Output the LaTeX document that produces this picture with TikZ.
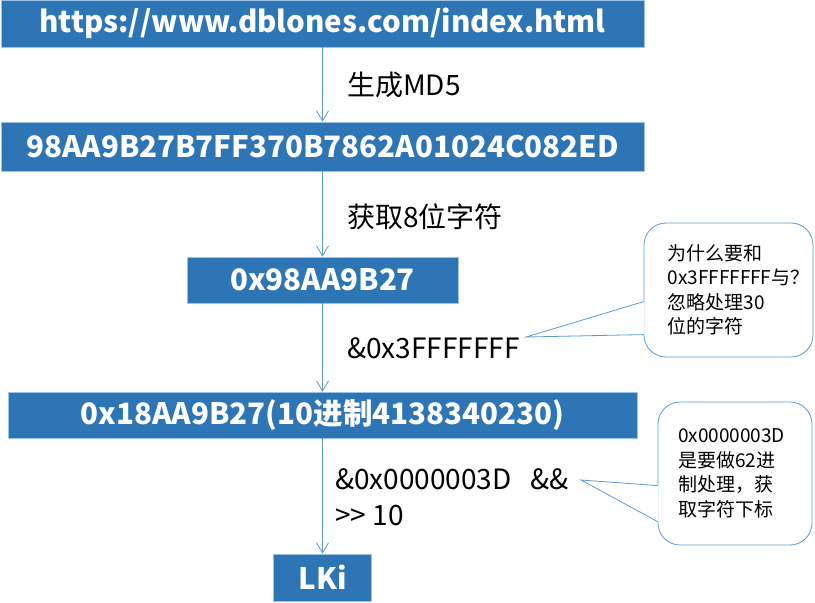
\documentclass[tikz,border=0pt]{standalone}
\usepackage{fontspec}
\setmainfont{Noto Sans CJK SC}
\usetikzlibrary{arrows.meta,calc}
\definecolor{boxblue}{HTML}{2E75B6}
\definecolor{boxedge}{HTML}{9DC3E6}
\definecolor{linkblue}{HTML}{5B9BD5}
\tikzset{
  stepbox/.style={draw=boxedge, line width=0.8pt, fill=boxblue, text=white,
    font=\fontsize{29.5}{34}\selectfont\bfseries, inner sep=0pt},
  flow/.style={-{Straight Barb[length=10pt,width=12pt]}, line width=0.8pt, draw=linkblue},
  oplabel/.style={anchor=west, align=left, font=\fontsize{28}{36}\selectfont, inner sep=0pt},
  note/.style={draw=linkblue, line width=0.8pt, fill=white, rounded corners=22pt,
    align=left, font=\fontsize{19}{24.5}\selectfont, inner sep=0pt},
  pointer/.style={draw=linkblue, line width=0.8pt, line join=miter}
}

\begin{document}
\begin{tikzpicture}[x=1pt, y=-1pt]
  \useasboundingbox (0,0) rectangle (815,603);

  % chain of values
  \node[stepbox, minimum width=643, minimum height=47] (url) at (322.5,23.5) {https://www.dblones.com/index.html};
  \node[stepbox, minimum width=643, minimum height=49] (md5) at (322.5,146.5) {98AA9B27B7FF370B7862A01024C082ED};
  \node[stepbox, minimum width=271, minimum height=46] (head) at (322.5,280) {0x98AA9B27};
  \node[stepbox, minimum width=629, minimum height=46] (masked) at (322.5,415) {0x18AA9B27(10进制4138340230)};
  \node[stepbox, minimum width=98, minimum height=47] (result) at (322.5,577.5) {LKi};

  \draw[flow] (url) -- (md5);
  \draw[flow] (md5) -- (head);
  \draw[flow] (head) -- (masked);
  \draw[flow] (masked) -- (result);

  % operations
  \node[oplabel] (genMD5) at (347,85) {生成MD5};
  \node[oplabel] (take8) at (347,217) {获取8位字符};
  \node[oplabel] (andMask) at (347,348) {\&0x3FFFFFFF};
  \node[oplabel] (andShift) at (335,497) {\&0x0000003D\ \ \ \&\&\\{>}{>} 10};

  % remarks
  \node[note, minimum width=169, minimum height=134, text width=122] (why) at (728.5,290)
    {为什么要和\\0x3FFFFFFF与？\\忽略处理30\\位的字符};
  \coordinate (whyTip) at (526,337);
  \fill[white] ($(why.north west)+(1,79)$) -- (whyTip) -- ($(why.north west)+(1,112)$) -- cycle;
  \draw[pointer] ($(why.north west)+(0,79)$) -- (whyTip) -- ($(why.north west)+(0,112)$);

  \node[note, minimum width=154, minimum height=143, text width=114] (base62) at (735,473.5)
    {0x0000003D\\是要做62进\\制处理，获\\取字符下标};
  \coordinate (base62Tip) at (581,480);
  \fill[white] ($(base62.north west)+(1,84)$) -- (base62Tip) -- ($(base62.north west)+(1,120)$) -- cycle;
  \draw[pointer] ($(base62.north west)+(0,84)$) -- (base62Tip) -- ($(base62.north west)+(0,120)$);
\end{tikzpicture}
\end{document}
